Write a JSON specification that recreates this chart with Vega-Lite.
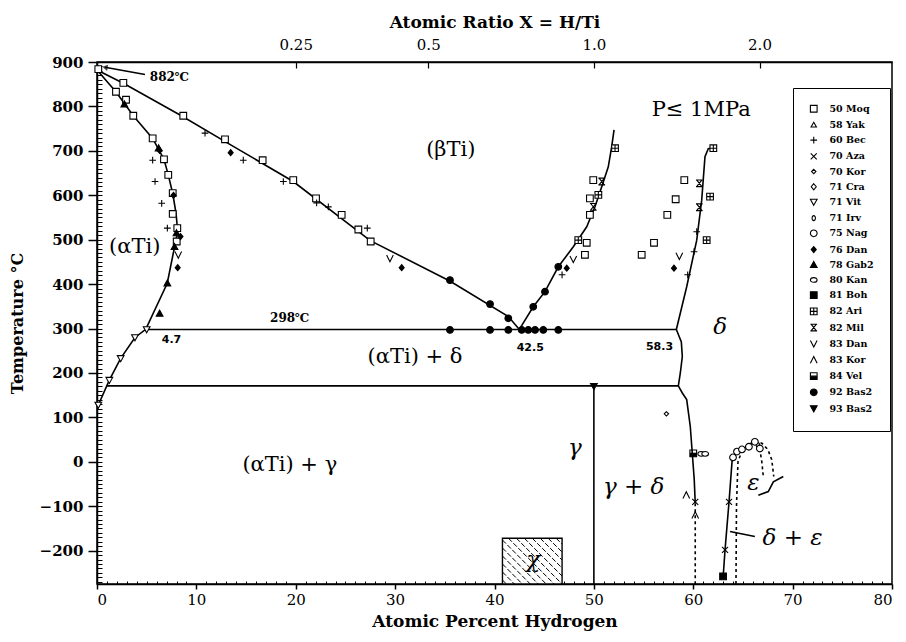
{
  "$schema": "https://vega.github.io/schema/vega-lite/v6.json",
  "width": 795,
  "height": 522,
  "autosize": {"type": "none"},
  "padding": {"left": 97, "top": 62, "right": 14, "bottom": 58},
  "background": "white",
  "config": {"view": {"stroke": "black", "strokeWidth": 1.5}, "font": "DejaVu Serif"},
  "datasets": {
    "solid": [
      {"c":"a1","o":1,"x":0,"y":882},{"c":"a1","o":2,"x":1.9,"y":833},{"c":"a1","o":3,"x":3.65,"y":779},{"c":"a1","o":4,"x":5.6,"y":728},{"c":"a1","o":5,"x":6.74,"y":681},{"c":"a1","o":6,"x":7.17,"y":646},{"c":"a1","o":7,"x":7.62,"y":604},{"c":"a1","o":8,"x":7.95,"y":560},{"c":"a1","o":9,"x":8.1,"y":524},{"c":"a1","o":10,"x":7.95,"y":495},{"c":"a1","o":11,"x":7.68,"y":470},{"c":"a1","o":12,"x":7.07,"y":402},{"c":"a1","o":13,"x":4.9,"y":298},
      {"c":"a2","o":1,"x":4.9,"y":298},{"c":"a2","o":2,"x":3.82,"y":280},{"c":"a2","o":3,"x":2.38,"y":233},{"c":"a2","o":4,"x":1.24,"y":184},{"c":"a2","o":5,"x":0.13,"y":128},{"c":"a2","o":6,"x":0,"y":125},
      {"c":"b1","o":1,"x":0,"y":882},{"c":"b1","o":2,"x":2.65,"y":852},{"c":"b1","o":3,"x":8.4,"y":780},{"c":"b1","o":4,"x":13.5,"y":713},{"c":"b1","o":5,"x":19.75,"y":631},{"c":"b1","o":6,"x":27.5,"y":498},{"c":"b1","o":7,"x":35.5,"y":407},{"c":"b1","o":8,"x":41.4,"y":327},{"c":"b1","o":9,"x":42.5,"y":298},
      {"c":"b2","o":1,"x":42.5,"y":298},{"c":"b2","o":2,"x":43.9,"y":349},{"c":"b2","o":3,"x":45.08,"y":383},{"c":"b2","o":4,"x":46.42,"y":439},{"c":"b2","o":5,"x":47.93,"y":484},{"c":"b2","o":6,"x":49.28,"y":529},{"c":"b2","o":7,"x":50.11,"y":574},{"c":"b2","o":8,"x":50.79,"y":619},{"c":"b2","o":9,"x":51.45,"y":664},{"c":"b2","o":10,"x":51.79,"y":709},{"c":"b2","o":11,"x":52.03,"y":747},
      {"c":"d1","o":1,"x":58.3,"y":298},{"c":"d1","o":2,"x":59.34,"y":394},{"c":"d1","o":3,"x":60.35,"y":499},{"c":"d1","o":4,"x":60.85,"y":589},{"c":"d1","o":5,"x":61.18,"y":687},{"c":"d1","o":6,"x":61.51,"y":705},{"c":"d1","o":7,"x":62.02,"y":707},
      {"c":"d2","o":1,"x":58.3,"y":298},{"c":"d2","o":2,"x":58.8,"y":270},{"c":"d2","o":3,"x":58.9,"y":237},{"c":"d2","o":4,"x":58.7,"y":200},{"c":"d2","o":5,"x":58.5,"y":171},{"c":"d2","o":6,"x":58.9,"y":155},{"c":"d2","o":7,"x":59.34,"y":140},{"c":"d2","o":8,"x":59.7,"y":80},{"c":"d2","o":9,"x":59.9,"y":20},{"c":"d2","o":10,"x":60.1,"y":-40},{"c":"d2","o":11,"x":60.2,"y":-93},
      {"c":"h1","o":1,"x":4.9,"y":298},{"c":"h1","o":2,"x":58.3,"y":298},
      {"c":"h2","o":1,"x":1.0,"y":171},{"c":"h2","o":2,"x":58.5,"y":171},
      {"c":"g1","o":1,"x":50,"y":170},{"c":"g1","o":2,"x":50,"y":-275},
      {"c":"e1","o":1,"x":63.0,"y":-262},{"c":"e1","o":2,"x":63.2,"y":-198},{"c":"e1","o":3,"x":63.6,"y":-90},{"c":"e1","o":4,"x":63.9,"y":0},{"c":"e1","o":5,"x":64.0,"y":10},
      {"c":"sq","o":1,"x":66.55,"y":-75},{"c":"sq","o":2,"x":67.55,"y":-67},{"c":"sq","o":3,"x":68.06,"y":-45},{"c":"sq","o":4,"x":69.06,"y":-33},
      {"c":"l1","o":1,"x":63.7,"y":-157},{"c":"l1","o":2,"x":66.2,"y":-168},
      {"c":"ar","o":1,"x":4.83,"y":872},{"c":"ar","o":2,"x":0.8,"y":888}
    ],
    "dotted": [
      {"c":"x1","o":1,"x":60.2,"y":-93},{"c":"x1","o":2,"x":60.2,"y":-275},
      {"c":"x2","o":1,"x":64.3,"y":-275},{"c":"x2","o":2,"x":64.35,"y":-100},{"c":"x2","o":3,"x":64.5,"y":0},{"c":"x2","o":4,"x":64.9,"y":25},{"c":"x2","o":5,"x":65.5,"y":38},{"c":"x2","o":6,"x":66.2,"y":46},{"c":"x2","o":7,"x":66.9,"y":42},{"c":"x2","o":8,"x":67.5,"y":28},{"c":"x2","o":9,"x":67.9,"y":5},{"c":"x2","o":10,"x":68.1,"y":-33},
      {"c":"x3","o":1,"x":66.4,"y":42},{"c":"x3","o":2,"x":66.7,"y":28},{"c":"x3","o":3,"x":66.9,"y":0},{"c":"x3","o":4,"x":67.05,"y":-33}
    ],
    "hatch": [
      {"x":40.8,"y":-266,"x2":41.2,"y2":-275},{"x":40.8,"y":-248,"x2":42.0,"y2":-275},{"x":40.8,"y":-230,"x2":42.8,"y2":-275},{"x":40.8,"y":-212,"x2":43.6,"y2":-275},{"x":40.8,"y":-194,"x2":44.4,"y2":-275},{"x":40.8,"y":-176,"x2":45.2,"y2":-275},{"x":41.4,"y":-172,"x2":46.0,"y2":-275},{"x":42.2,"y":-172,"x2":46.8,"y2":-275},{"x":43.0,"y":-172,"x2":46.8,"y2":-257},{"x":43.8,"y":-172,"x2":46.8,"y2":-239},{"x":44.6,"y":-172,"x2":46.8,"y2":-221},{"x":45.4,"y":-172,"x2":46.8,"y2":-203},{"x":46.2,"y":-172,"x2":46.8,"y2":-185}
    ],
    "box": [{"x":40.8,"x2":46.8,"y":-172,"y2":-275}],
    "pts": [
      {"s":"50 Moq","x":0.13,"y":884},{"s":"50 Moq","x":2.65,"y":853},{"s":"50 Moq","x":1.91,"y":833},{"s":"50 Moq","x":2.92,"y":815},{"s":"50 Moq","x":3.65,"y":779},{"s":"50 Moq","x":8.68,"y":779},{"s":"50 Moq","x":5.6,"y":728},{"s":"50 Moq","x":12.88,"y":726},{"s":"50 Moq","x":6.74,"y":681},{"s":"50 Moq","x":16.67,"y":679},{"s":"50 Moq","x":7.17,"y":646},{"s":"50 Moq","x":19.75,"y":634},{"s":"50 Moq","x":7.62,"y":605},{"s":"50 Moq","x":22.04,"y":593},{"s":"50 Moq","x":7.62,"y":558},{"s":"50 Moq","x":24.62,"y":556},{"s":"50 Moq","x":26.3,"y":523},{"s":"50 Moq","x":8.08,"y":526},{"s":"50 Moq","x":27.54,"y":496},{"s":"50 Moq","x":8.02,"y":496},
      {"s":"50 Moq","x":49.1,"y":466},{"s":"50 Moq","x":49.28,"y":493},{"s":"50 Moq","x":49.6,"y":556},{"s":"50 Moq","x":49.6,"y":593},{"s":"50 Moq","x":49.94,"y":634},{"s":"50 Moq","x":54.81,"y":466},{"s":"50 Moq","x":56.05,"y":493},{"s":"50 Moq","x":57.39,"y":556},{"s":"50 Moq","x":58.23,"y":591},{"s":"50 Moq","x":59.1,"y":634},
      {"s":"60 Bec","x":10.87,"y":740},{"s":"60 Bec","x":14.72,"y":679},{"s":"60 Bec","x":5.6,"y":679},{"s":"60 Bec","x":5.84,"y":631},{"s":"60 Bec","x":6.51,"y":582},{"s":"60 Bec","x":7.08,"y":526},{"s":"60 Bec","x":18.75,"y":631},{"s":"60 Bec","x":23.28,"y":574},{"s":"60 Bec","x":22.1,"y":583},{"s":"60 Bec","x":27.2,"y":526},{"s":"60 Bec","x":46.8,"y":421},{"s":"60 Bec","x":59.44,"y":421},{"s":"60 Bec","x":60.08,"y":473},{"s":"60 Bec","x":60.35,"y":518},
      {"s":"70 Aza","x":60.2,"y":-90},{"s":"70 Aza","x":63.6,"y":-90},{"s":"70 Aza","x":63.2,"y":-198},
      {"s":"70 Kor","x":57.3,"y":108},
      {"s":"71 Vit","x":5.0,"y":298},{"s":"71 Vit","x":3.82,"y":280},{"s":"71 Vit","x":2.38,"y":233},{"s":"71 Vit","x":1.24,"y":184},{"s":"71 Vit","x":0.13,"y":128},
      {"s":"71 Irv","x":66.5,"y":38},
      {"s":"75 Nag","x":64.0,"y":10},{"s":"75 Nag","x":64.4,"y":23},{"s":"75 Nag","x":64.9,"y":28},{"s":"75 Nag","x":65.6,"y":34},{"s":"75 Nag","x":66.2,"y":45},{"s":"75 Nag","x":66.7,"y":30},
      {"s":"76 Dan","x":13.45,"y":696},{"s":"76 Dan","x":6.3,"y":701},{"s":"76 Dan","x":7.7,"y":600},{"s":"76 Dan","x":8.4,"y":507},{"s":"76 Dan","x":8.12,"y":437},{"s":"76 Dan","x":30.66,"y":437},{"s":"76 Dan","x":47.27,"y":436},{"s":"76 Dan","x":58.06,"y":436},
      {"s":"78 Gab2","x":2.75,"y":805},{"s":"78 Gab2","x":6.2,"y":706},{"s":"78 Gab2","x":8.0,"y":515},{"s":"78 Gab2","x":7.8,"y":484},{"s":"78 Gab2","x":7.08,"y":402},{"s":"78 Gab2","x":6.3,"y":334},
      {"s":"80 Kan","x":60.8,"y":18},{"s":"80 Kan","x":61.2,"y":18},
      {"s":"81 Boh","x":63.0,"y":-258},
      {"s":"82 Ari","x":48.43,"y":499},{"s":"82 Ari","x":50.45,"y":601},{"s":"82 Ari","x":52.13,"y":706},{"s":"82 Ari","x":61.35,"y":499},{"s":"82 Ari","x":61.69,"y":597},{"s":"82 Ari","x":62.02,"y":706},
      {"s":"82 Mil","x":60.61,"y":573},{"s":"82 Mil","x":60.61,"y":627},{"s":"82 Mil","x":49.94,"y":574},{"s":"82 Mil","x":50.79,"y":631},
      {"s":"83 Dan","x":8.18,"y":466},{"s":"83 Dan","x":29.48,"y":458},{"s":"83 Dan","x":47.93,"y":456},{"s":"83 Dan","x":58.6,"y":463},
      {"s":"83 Kor","x":59.3,"y":-75},{"s":"83 Kor","x":60.2,"y":-120},
      {"s":"84 Vel","x":60.0,"y":19},
      {"s":"92 Bas2","x":35.52,"y":409},{"s":"92 Bas2","x":39.55,"y":355},{"s":"92 Bas2","x":41.39,"y":323},{"s":"92 Bas2","x":35.52,"y":297},{"s":"92 Bas2","x":39.55,"y":297},{"s":"92 Bas2","x":41.39,"y":297},{"s":"92 Bas2","x":42.74,"y":297},{"s":"92 Bas2","x":43.4,"y":297},{"s":"92 Bas2","x":44.08,"y":297},{"s":"92 Bas2","x":44.91,"y":297},{"s":"92 Bas2","x":46.42,"y":297},{"s":"92 Bas2","x":43.9,"y":349},{"s":"92 Bas2","x":45.08,"y":383},{"s":"92 Bas2","x":46.42,"y":439},
      {"s":"93 Bas2","x":50.0,"y":170}
    ],
    "labels": [
      {"k":"ph","x":35.6,"y":702,"t":"(βTi)"},
      {"k":"ph","x":3.8,"y":484,"t":"(αTi)"},
      {"k":"ph","x":32.0,"y":236,"t":"(αTi) + δ"},
      {"k":"ph","x":19.4,"y":-7,"t":"(αTi) + γ"},
      {"k":"ph","x":60.8,"y":792,"t":"P≤ 1MPa"},
      {"k":"gr","x":62.7,"y":304,"t":"δ"},
      {"k":"gr","x":48.1,"y":31,"t":"γ"},
      {"k":"gr","x":54.0,"y":-56,"t":"γ + δ"},
      {"k":"gr","x":66.05,"y":-48,"t":"ε"},
      {"k":"gr","x":70.0,"y":-171,"t":"δ + ε"},
      {"k":"gr","x":43.9,"y":-220,"t":"χ"},
      {"k":"nm","x":7.5,"y":274,"t":"4.7"},
      {"k":"nm","x":43.6,"y":256,"t":"42.5"},
      {"k":"nm","x":56.6,"y":259,"t":"58.3"},
      {"k":"tc","x":7.3,"y":867,"t":"882℃"},
      {"k":"tc","x":19.4,"y":323,"t":"298℃"}
    ]
  },
  "layer": [
    {
      "data": {"name": "box"},
      "mark": {"type": "rect", "fill": "white", "stroke": "black", "strokeWidth": 1.4},
      "encoding": {
        "x": {"field": "x", "type": "quantitative", "scale": {"domain": [0, 80], "nice": false, "zero": false},
          "axis": {"orient": "bottom", "values": [0,10,20,30,40,50,60,70,80], "grid": false, "tickSize": 5, "tickWidth": 1.5, "tickColor": "black", "domainColor": "black", "domainWidth": 1.5, "labelFont": "DejaVu Serif", "labelFontSize": 15, "labelColor": "black", "labelPadding": 3, "title": "Atomic Percent Hydrogen", "titleFont": "DejaVu Serif", "titleFontSize": 17, "titleFontWeight": "bold", "titleColor": "black", "titlePadding": 6}},
        "x2": {"field": "x2"},
        "y": {"field": "y", "type": "quantitative", "scale": {"domain": [-275, 900], "nice": false, "zero": false},
          "axis": {"orient": "left", "values": [-200,-100,0,100,200,300,400,500,600,700,800,900], "grid": false, "tickSize": 9, "tickWidth": 1.5, "tickColor": "black", "domainColor": "black", "domainWidth": 1.5, "labelFont": "DejaVu Serif", "labelFontSize": 15, "labelFontWeight": "bold", "labelColor": "black", "labelPadding": 5, "title": "Temperature °C", "titleFont": "DejaVu Serif", "titleFontSize": 16, "titleFontWeight": "bold", "titleColor": "black", "titlePadding": 14}},
        "y2": {"field": "y2"}
      }
    },
    {
      "data": {"name": "hatch"},
      "mark": {"type": "rule", "stroke": "black", "strokeWidth": 1, "strokeDash": [5, 2]},
      "encoding": {
        "x": {"field": "x", "type": "quantitative", "scale": {"domain": [0, 80], "nice": false, "zero": false},
          "axis": {"orient": "bottom", "values": [1,2,3,4,5,6,7,8,9,11,12,13,14,15,16,17,18,19,21,22,23,24,25,26,27,28,29,31,32,33,34,35,36,37,38,39,41,42,43,44,45,46,47,48,49,51,52,53,54,55,56,57,58,59,61,62,63,64,65,66,67,68,69,71,72,73,74,75,76,77,78,79], "labels": false, "domain": false, "grid": false, "tickSize": -3, "tickWidth": 1, "tickColor": "black", "title": null}},
        "x2": {"field": "x2"},
        "y": {"field": "y", "type": "quantitative", "scale": {"domain": [-275, 900], "nice": false, "zero": false},
          "axis": {"orient": "left", "values": [-270,-260,-250,-240,-230,-220,-210,-200,-190,-180,-170,-160,-150,-140,-130,-120,-110,-100,-90,-80,-70,-60,-50,-40,-30,-20,-10,0,10,20,30,40,50,60,70,80,90,100,110,120,130,140,150,160,170,180,190,200,210,220,230,240,250,260,270,280,290,300,310,320,330,340,350,360,370,380,390,400,410,420,430,440,450,460,470,480,490,500,510,520,530,540,550,560,570,580,590,600,610,620,630,640,650,660,670,680,690,700,710,720,730,740,750,760,770,780,790,800,810,820,830,840,850,860,870,880,890], "labels": false, "domain": false, "grid": false, "tickSize": -5, "tickWidth": 1, "tickColor": "black", "title": null}},
        "y2": {"field": "y2"}
      }
    },
    {
      "data": {"name": "solid"},
      "mark": {"type": "line", "stroke": "black", "strokeWidth": 1.6},
      "encoding": {
        "x": {"field": "x", "type": "quantitative", "scale": {"domain": [0, 80], "nice": false, "zero": false},
          "axis": {"orient": "top", "values": [20, 33.333, 50, 66.667], "labelExpr": "datum.value < 25 ? '0.25' : datum.value < 40 ? '0.5' : datum.value < 60 ? '1.0' : '2.0'", "grid": false, "tickSize": -6, "tickWidth": 1.2, "tickColor": "black", "domainColor": "black", "domainWidth": 1.5, "labelFont": "DejaVu Serif", "labelFontSize": 15, "labelColor": "black", "labelPadding": 16, "title": "Atomic Ratio X = H/Ti", "titleFont": "DejaVu Serif", "titleFontSize": 17, "titleFontWeight": "bold", "titleColor": "black", "titlePadding": 6}},
        "y": {"field": "y", "type": "quantitative", "scale": {"domain": [-275, 900], "nice": false, "zero": false}, "axis": null},
        "detail": {"field": "c"},
        "order": {"field": "o", "type": "quantitative"}
      }
    },
    {
      "data": {"name": "dotted"},
      "mark": {"type": "line", "stroke": "black", "strokeWidth": 1.6, "strokeDash": [3, 3]},
      "encoding": {
        "x": {"field": "x", "type": "quantitative", "scale": {"domain": [0, 80], "nice": false, "zero": false}, "axis": null},
        "y": {"field": "y", "type": "quantitative", "scale": {"domain": [-275, 900], "nice": false, "zero": false}, "axis": null},
        "detail": {"field": "c"},
        "order": {"field": "o", "type": "quantitative"}
      }
    },
    {
      "data": {"values": [{"x": 0.8, "y": 888}]},
      "mark": {"type": "point", "shape": "triangle-up", "angle": 280, "size": 40, "filled": true, "color": "black"},
      "encoding": {
        "x": {"field": "x", "type": "quantitative", "scale": {"domain": [0, 80], "nice": false, "zero": false}, "axis": null},
        "y": {"field": "y", "type": "quantitative", "scale": {"domain": [-275, 900], "nice": false, "zero": false}, "axis": null}
      }
    },
    {
      "data": {"name": "pts"},
      "mark": {"type": "point", "strokeWidth": 1.1, "size": 45, "opacity": 1, "fillOpacity": 1, "strokeOpacity": 1},
      "encoding": {
        "x": {"field": "x", "type": "quantitative", "scale": {"domain": [0, 80], "nice": false, "zero": false}, "axis": null},
        "y": {"field": "y", "type": "quantitative", "scale": {"domain": [-275, 900], "nice": false, "zero": false}, "axis": null},
        "shape": {"field": "s", "type": "nominal",
          "scale": {"domain": ["50 Moq","58 Yak","60 Bec","70 Aza","70 Kor","71 Cra","71 Vit","71 Irv","75 Nag","76 Dan","78 Gab2","80 Kan","81 Boh","82 Ari","82 Mil","83 Dan","83 Kor","84 Vel","92 Bas2","93 Bas2"],
            "range": ["M-1,-1H1V1H-1Z","M0,-0.8L0.8,0.6H-0.8Z","M-1,0H1M0,-1V1","M-0.9,-0.9L0.9,0.9M0.9,-0.9L-0.9,0.9","M0,-0.65L0.65,0L0,0.65L-0.65,0Z","M0,-0.9L0.75,0L0,0.9L-0.75,0Z","M0,1L1,-0.8H-1Z","M0,-0.75A0.5,0.75 0 1,1 0,0.75A0.5,0.75 0 1,1 0,-0.75Z","M0,-1A1,1 0 1,1 0,1A1,1 0 1,1 0,-1Z","M0,-0.9L0.75,0L0,0.9L-0.75,0Z","M0,-1L1,0.8H-1Z","M-1,0A1,0.7 0 1,1 1,0A1,0.7 0 1,1 -1,0Z","M-1,-1H1V1H-1Z","M-1,-1H1V1H-1ZM-1,0H1M0,-1V1","M-1,-1H1M-1,1H1M-0.8,-1L0.8,1M0.8,-1L-0.8,1","M-1,-1L0,1L1,-1","M-1,1L0,-1L1,1","M-1,0L-1,-1L1,-1L1,0L1,-1L-1,-1ZM-1,0H1V1H-1Z","M0,-1A1,1 0 1,1 0,1A1,1 0 1,1 0,-1Z","M0,1L1,-0.8H-1Z"]},
          "legend": {"orient": "none", "legendX": 696, "legendY": 26, "title": null, "padding": 16, "strokeColor": "black", "fillColor": "white", "labelFont": "DejaVu Serif", "labelFontSize": 9.5, "labelFontWeight": "bold", "labelColor": "black", "labelOffset": 11, "rowPadding": 4.2, "symbolSize": 45, "symbolStrokeWidth": 1.1}},
        "fill": {"field": "s", "type": "nominal",
          "scale": {"domain": ["50 Moq","58 Yak","60 Bec","70 Aza","70 Kor","71 Cra","71 Vit","71 Irv","75 Nag","76 Dan","78 Gab2","80 Kan","81 Boh","82 Ari","82 Mil","83 Dan","83 Kor","84 Vel","92 Bas2","93 Bas2"],
            "range": ["white","white","transparent","transparent","white","white","white","white","white","black","black","white","black","white","transparent","transparent","transparent","black","black","black"]},
          "legend": {"orient": "none", "legendX": 696, "legendY": 26, "title": null, "padding": 16, "strokeColor": "black", "fillColor": "white", "labelFont": "DejaVu Serif", "labelFontSize": 9.5, "labelFontWeight": "bold", "labelColor": "black", "labelOffset": 11, "rowPadding": 4.2, "symbolSize": 45, "symbolStrokeWidth": 1.1}},
        "stroke": {"field": "s", "type": "nominal",
          "scale": {"domain": ["50 Moq","58 Yak","60 Bec","70 Aza","70 Kor","71 Cra","71 Vit","71 Irv","75 Nag","76 Dan","78 Gab2","80 Kan","81 Boh","82 Ari","82 Mil","83 Dan","83 Kor","84 Vel","92 Bas2","93 Bas2"],
            "range": ["black","black","black","black","black","black","black","black","black","black","black","black","black","black","black","black","black","black","black","black"]},
          "legend": {"orient": "none", "legendX": 696, "legendY": 26, "title": null, "padding": 16, "strokeColor": "black", "fillColor": "white", "labelFont": "DejaVu Serif", "labelFontSize": 9.5, "labelFontWeight": "bold", "labelColor": "black", "labelOffset": 11, "rowPadding": 4.2, "symbolSize": 45, "symbolStrokeWidth": 1.1}}
      }
    },
    {
      "data": {"name": "labels"},
      "transform": [{"filter": "datum.k == 'ph'"}],
      "mark": {"type": "text", "font": "DejaVu Serif", "fontSize": 21, "color": "black", "align": "center", "baseline": "middle"},
      "encoding": {
        "x": {"field": "x", "type": "quantitative", "scale": {"domain": [0, 80], "nice": false, "zero": false}, "axis": null},
        "y": {"field": "y", "type": "quantitative", "scale": {"domain": [-275, 900], "nice": false, "zero": false}, "axis": null},
        "text": {"field": "t"}
      }
    },
    {
      "data": {"name": "labels"},
      "transform": [{"filter": "datum.k == 'gr'"}],
      "mark": {"type": "text", "font": "DejaVu Serif", "fontSize": 23, "fontStyle": "italic", "color": "black", "align": "center", "baseline": "middle"},
      "encoding": {
        "x": {"field": "x", "type": "quantitative", "scale": {"domain": [0, 80], "nice": false, "zero": false}, "axis": null},
        "y": {"field": "y", "type": "quantitative", "scale": {"domain": [-275, 900], "nice": false, "zero": false}, "axis": null},
        "text": {"field": "t"}
      }
    },
    {
      "data": {"name": "labels"},
      "transform": [{"filter": "datum.k == 'nm'"}],
      "mark": {"type": "text", "font": "DejaVu Sans", "fontSize": 11, "fontWeight": "bold", "color": "black", "align": "center", "baseline": "middle"},
      "encoding": {
        "x": {"field": "x", "type": "quantitative", "scale": {"domain": [0, 80], "nice": false, "zero": false}, "axis": null},
        "y": {"field": "y", "type": "quantitative", "scale": {"domain": [-275, 900], "nice": false, "zero": false}, "axis": null},
        "text": {"field": "t"}
      }
    },
    {
      "data": {"name": "labels"},
      "transform": [{"filter": "datum.k == 'tc'"}],
      "mark": {"type": "text", "font": "DejaVu Serif", "fontSize": 12, "fontWeight": "bold", "color": "black", "align": "center", "baseline": "middle"},
      "encoding": {
        "x": {"field": "x", "type": "quantitative", "scale": {"domain": [0, 80], "nice": false, "zero": false}, "axis": null},
        "y": {"field": "y", "type": "quantitative", "scale": {"domain": [-275, 900], "nice": false, "zero": false}, "axis": null},
        "text": {"field": "t"}
      }
    }
  ],
  "resolve": {"axis": {"x": "independent", "y": "independent"}}
}
